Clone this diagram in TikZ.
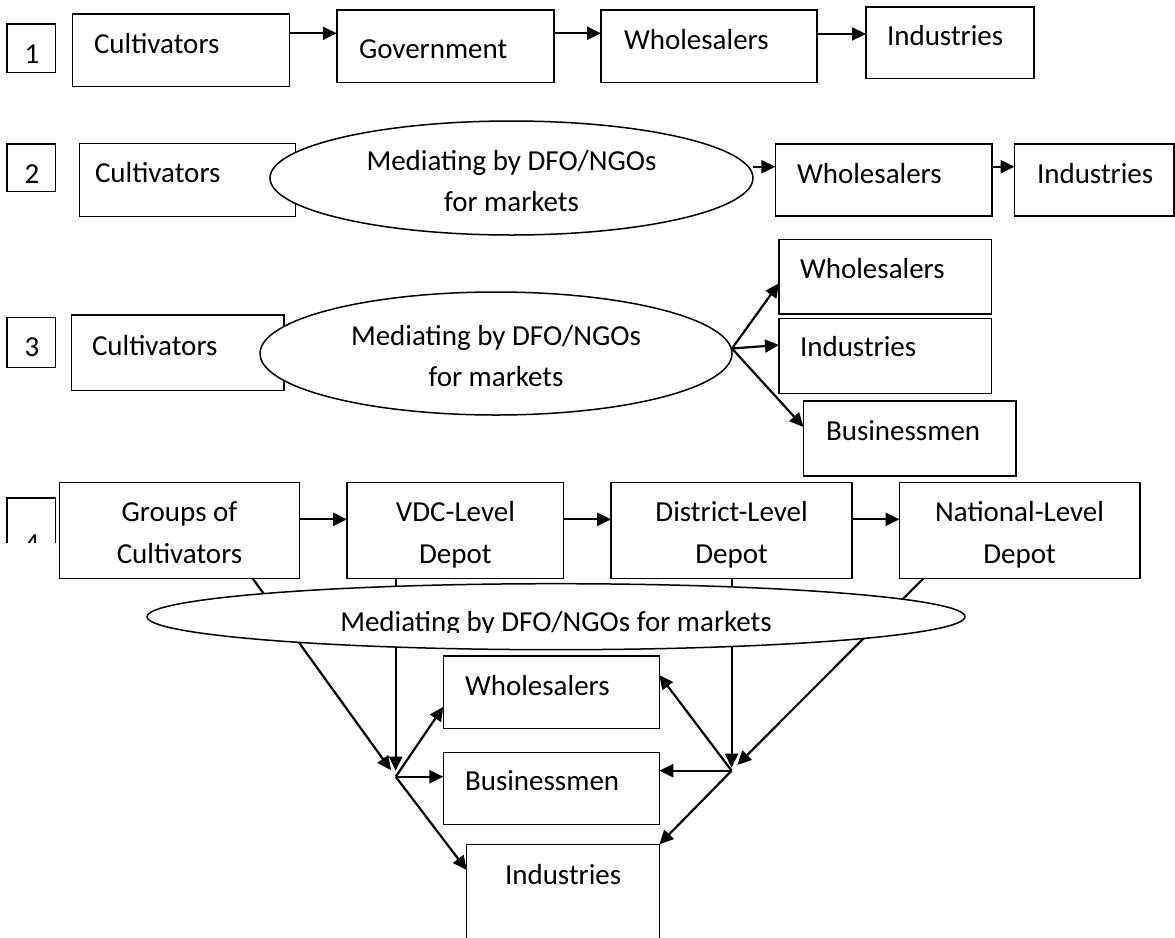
\documentclass[tikz,border=0pt]{standalone}
\usepackage{fontspec}
\setmainfont{Carlito}
\usetikzlibrary{arrows.meta,shapes.geometric}
\tikzset{
  bx/.style 2 args={draw, line width=1.4pt, inner sep=0pt, outer sep=0pt, anchor=north west, minimum width=#1pt, minimum height=#2pt},
  lbl/.style={anchor=base west, inner sep=0pt, outer sep=0pt},
  clbl/.style={anchor=base, inner sep=0pt, outer sep=0pt},
  arr/.style={line width=2.2pt, -{Triangle[length=14pt,width=13pt]}},
  ell/.style={draw, fill=white, ellipse, line width=1.5pt, inner sep=0pt, outer sep=0pt},
}
\begin{document}
\begin{tikzpicture}[x=1pt,y=-1pt,font=\fontsize{29}{35}\selectfont]
\useasboundingbox (0,0) rectangle (1175,937);
\fill[white] (0,0) rectangle (1175,937);
\clip (0,0) rectangle (1175,937);

% ---------- Row 1 ----------
\node[bx={48.5}{48.7}] (n1) at (7,24) {};
\node[clbl] (n1t) at (32,63) {1};
\node[bx={217}{72.7}] (c1) at (72.7,14) {};
\node[lbl] (c1t) at (94,53.3) {Cultivators};
\node[bx={217}{72.3}] (g1) at (336.8,10) {};
\node[lbl] (g1t) at (359,58) {Government};
\node[bx={216}{72.7}] (w1) at (601,10) {};
\node[lbl] (w1t) at (624,49.3) {Wholesalers};
\node[bx={168}{71.7}] (i1) at (866,7) {};
\node[lbl] (i1t) at (887,45) {Industries};
\coordinate (a1) at ([yshift=-19.3pt]c1.north east);
\draw[arr] (a1) -- (a1 -| g1.west);
\coordinate (a2) at ([yshift=-23.3pt]g1.north east);
\draw[arr] (a2) -- (a2 -| w1.west);
\coordinate (a3) at ([yshift=-24pt]w1.north east);
\draw[arr] (a3) -- (a3 -| i1.west);

% ---------- Row 2 ----------
\node[bx={48.5}{47.7}] (n2) at (7,144) {};
\node[clbl] (n2t) at (32,183) {2};
\node[bx={216}{73.4}] (c2) at (79.2,143.3) {};
\node[lbl] (c2t) at (95,182.7) {Cultivators};
\node[ell, minimum width=483pt, minimum height=114pt] (e2) at (511.5,178) {};
\node[clbl] (e2a) at (511.5,170) {Mediating by DFO/NGOs};
\node[clbl] (e2b) at (511.5,211.7) {for markets};
\node[bx={216.4}{72}] (w2) at (775.4,144) {};
\node[lbl] (w2t) at (797,183.3) {Wholesalers};
\node[bx={159.5}{72}] (i2) at (1014.5,144) {};
\node[lbl] (i2t) at (1037,183.3) {Industries};
\coordinate (b1) at ([yshift=11.3pt]e2.east);
\draw[arr] (b1) -- (b1 -| w2.west);
\coordinate (b2) at ([yshift=-22.7pt]w2.north east);
\draw[arr] (b2) -- (b2 -| i2.west);

% ---------- Row 3 ----------
\node[bx={48.5}{50}] (n3) at (7,317.3) {};
\node[clbl] (n3t) at (32,356) {3};
\node[bx={212.8}{75.7}] (c3) at (71.2,315) {};
\node[lbl] (c3t) at (92,355) {Cultivators};
\node[ell, minimum width=472pt, minimum height=123pt] (e3) at (496,353.5) {};
\node[clbl] (e3a) at (496,345) {Mediating by DFO/NGOs};
\node[clbl] (e3b) at (496,386.7) {for markets};
\node[bx={212.7}{74.7}] (w3) at (779,239.3) {};
\node[lbl] (w3t) at (800,278.3) {Wholesalers};
\node[bx={212.7}{75}] (i3) at (779,318.3) {};
\node[lbl] (i3t) at (800,356.7) {Industries};
\node[bx={212.5}{75}] (b3) at (803.5,401) {};
\node[lbl] (b3t) at (826,440) {Businessmen};
\coordinate (j3) at ([yshift=5pt]e3.east);
\draw[arr] (j3) -- ([yshift=-44pt]w3.north west);
\draw[arr] (j3) -- ([yshift=-26.7pt]i3.north west);
\draw[arr] (j3) -- ([yshift=-26pt]b3.north west);

% ---------- Row 4 ----------
\node[bx={48.5}{44.7}, draw=none] (n4) at (7,498) {};
\draw[line width=1.4pt] (n4.south west) -- (n4.north west) -- (n4.north east) -- (n4.south east);
\begin{scope}
  \clip (n4.north west) rectangle (n4.south east);
  \node[clbl] (n4t) at (32,553.7) {4};
\end{scope}
\node[bx={240.4}{96}] (gr) at (59.3,482.3) {};
\node[clbl] (gra) at (179.5,521) {Groups of};
\node[clbl] (grb) at (179.5,563) {Cultivators};
\node[bx={216.7}{96}] (vdc) at (347,482.3) {};
\node[clbl] (vdca) at (455.4,521) {VDC-Level};
\node[clbl] (vdcb) at (455.4,563) {Depot};
\node[bx={241}{96}] (dis) at (611.1,482.3) {};
\node[clbl] (disa) at (731.6,521) {District-Level};
\node[clbl] (disb) at (731.6,563) {Depot};
\node[bx={240.3}{96}] (nat) at (899.5,482.3) {};
\node[clbl] (nata) at (1019.6,521) {National-Level};
\node[clbl] (natb) at (1019.6,563) {Depot};
\coordinate (d1) at ([yshift=-37pt]gr.north east);
\draw[arr] (d1) -- (d1 -| vdc.west);
\coordinate (d2) at ([yshift=-37pt]vdc.north east);
\draw[arr] (d2) -- (d2 -| dis.west);
\coordinate (d3) at ([yshift=-37pt]dis.north east);
\draw[arr] (d3) -- (d3 -| nat.west);

% bottom boxes
\node[bx={216}{72.3}] (w4) at (443.3,656) {};
\node[lbl] (w4t) at (465,695) {Wholesalers};
\node[bx={216}{72}] (b4) at (443.3,752.3) {};
\node[lbl] (b4t) at (465,790.7) {Businessmen};
\node[bx={192.6}{100}] (i4) at (466.7,844.3) {};
\node[lbl] (i4t) at (505,884.3) {Industries};

% junctions
\coordinate (jl) at (395.7,776.7);
\coordinate (jr) at (731.6,770.7);
\draw[arr, shorten >=6pt] (jl |- vdc.south) -- (jl);
\draw[arr, shorten >=8pt] ([xshift=-47.1pt]gr.south east) -- (jl);
\draw[arr] (jl) -- ([yshift=-14.6pt]w4.west);
\draw[arr] (jl) -- (jl -| b4.west);
\draw[arr] (jl) -- ([yshift=-25.7pt]i4.north west);
\draw[arr, shorten >=3pt] (jr |- dis.south) -- (jr);
\draw[arr, shorten >=8pt] ([xshift=24pt]nat.south west) -- (jr);
\draw[arr] (jr) -- ([yshift=17.2pt]w4.east);
\draw[arr] (jr) -- (jr -| b4.east);
\draw[arr] (jr) -- (i4.north east);

% ellipse over the lines
\node[ell, minimum width=818pt, minimum height=66pt] (e4) at (556,616.7) {};
\begin{scope}
  \clip (e4.north west) rectangle (1175,632);
  \node[clbl] (e4t) at (556,631) {Mediating by DFO/NGOs for markets};
\end{scope}
\end{tikzpicture}
\end{document}
